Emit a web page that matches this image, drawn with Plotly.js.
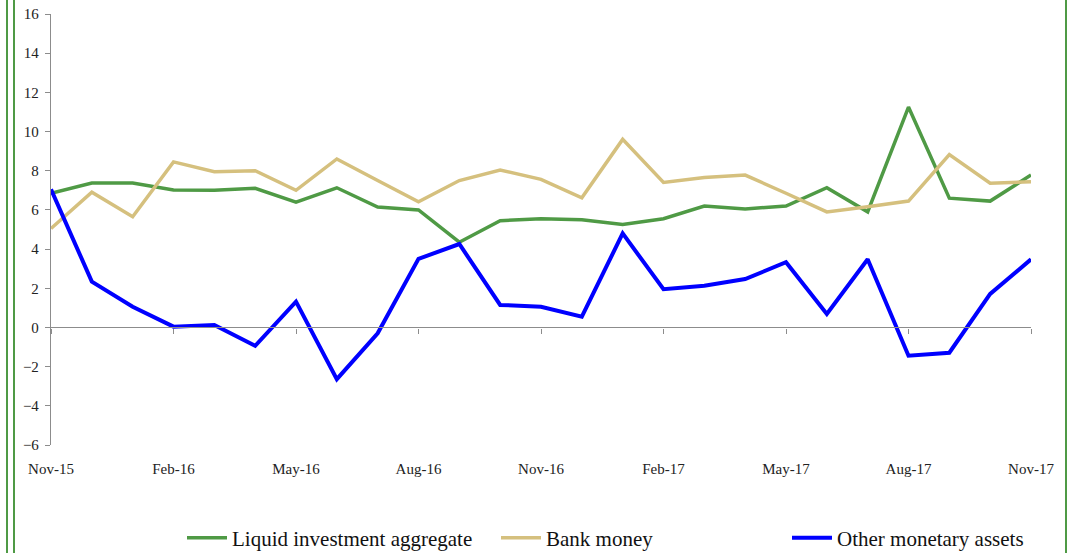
<!DOCTYPE html>
<html>
<head>
<meta charset="utf-8">
<script src="https://cdn.plot.ly/plotly-3.0.1.min.js"></script>
<style>
  html, body { margin: 0; padding: 0; background: #ffffff; }
  #chart { width: 1081px; height: 553px; }
</style>
</head>
<body>
<div id="chart"></div>
<script>
// Months Nov-15 .. Nov-17 (25 monthly observations)
const months = ["Nov-15","Dec-15","Jan-16","Feb-16","Mar-16","Apr-16","May-16","Jun-16","Jul-16","Aug-16","Sep-16","Oct-16",
                "Nov-16","Dec-16","Jan-17","Feb-17","Mar-17","Apr-17","May-17","Jun-17","Jul-17","Aug-17","Sep-17","Oct-17","Nov-17"];
const tickLabels = ["Nov-15","Feb-16","May-16","Aug-16","Nov-16","Feb-17","May-17","Aug-17","Nov-17"];
const yTicks = [-6, -4, -2, 0, 2, 4, 6, 8, 10, 12, 14, 16];

const liquidInvestment = [6.85, 7.37, 7.37, 7.02, 7.0, 7.1, 6.4, 7.13, 6.15, 6.0, 4.35, 5.45,
                          5.55, 5.5, 5.25, 5.55, 6.2, 6.05, 6.2, 7.13, 5.9, 11.25, 6.6, 6.45, 7.78];
const bankMoney = [5.05, 6.9, 5.65, 8.45, 7.95, 8.0, 7.0, 8.6, 7.5, 6.42, 7.5, 8.04,
                   7.56, 6.62, 9.6, 7.4, 7.66, 7.78, 6.85, 5.9, 6.16, 6.45, 8.82, 7.36, 7.44];
const otherMonetary = [7.05, 2.34, 1.06, 0.04, 0.13, -0.94, 1.32, -2.64, -0.3, 3.5, 4.26, 1.15,
                       1.06, 0.55, 4.8, 1.95, 2.13, 2.47, 3.33, 0.69, 3.48, -1.44, -1.29, 1.71, 3.48];

const idx = months.map((m, i) => i);
const tickIdx = tickLabels.map(t => months.indexOf(t));

const font = "'Liberation Serif', 'DejaVu Serif', serif";

const traces = [
  { x: idx, y: liquidInvestment, name: "Liquid investment aggregate", type: "scatter", mode: "lines",
    legend: "legend", line: { color: "#4f9a45", width: 3.5 }, text: months,
    hovertemplate: "%{text}: %{y}<extra></extra>" },
  { x: idx, y: bankMoney, name: "Bank money", type: "scatter", mode: "lines",
    legend: "legend2", line: { color: "#d5c07e", width: 3.5 }, text: months,
    hovertemplate: "%{text}: %{y}<extra></extra>" },
  { x: idx, y: otherMonetary, name: "Other monetary assets", type: "scatter", mode: "lines",
    legend: "legend3", line: { color: "#0000ff", width: 4 }, text: months,
    hovertemplate: "%{text}: %{y}<extra></extra>" },
  // invisible trace on xaxis2 so the zero-line category axis is drawn
  { x: [idx[0], idx[idx.length - 1]], y: [0, 0], xaxis: "x2", yaxis: "y", mode: "lines", line: { width: 0 },
    showlegend: false, hoverinfo: "skip" }
];

const W = 1081, H = 553;
const ml = 51, mr = 50, mt = 14, mb = 108;
const pw = W - ml - mr;
const px2paper = px => (px - ml) / pw;

function legendAt(px) {
  return { orientation: "h", xref: "container", yref: "container", x: px / W, xanchor: "left",
           y: 1 - 538 / H, yanchor: "middle", itemwidth: 40,
           font: { family: font, size: 21, color: "#111111" },
           bgcolor: "rgba(0,0,0,0)" };
}

const layout = {
  width: W, height: H,
  margin: { l: ml, r: mr, t: mt, b: mb, pad: 0, autoexpand: false },
  paper_bgcolor: "#ffffff", plot_bgcolor: "#ffffff",
  font: { family: font, color: "#222222", size: 15 },
  showlegend: true,
  legend: legendAt(182),
  legend2: legendAt(496),
  legend3: legendAt(787),
  xaxis: {
    range: [0, 24], tickmode: "array", tickvals: tickIdx, ticktext: tickLabels,
    showline: false, showgrid: false, zeroline: false, ticks: "",
    ticklabelstandoff: 13, tickfont: { family: font, size: 15, color: "#222222" }, fixedrange: true
  },
  xaxis2: {
    range: [0, 24], overlaying: "x", anchor: "free", position: 6 / 22,
    tickmode: "array", tickvals: tickIdx, showticklabels: false,
    showline: true, linecolor: "#8c8c8c", linewidth: 1.3,
    ticks: "outside", ticklen: 5, tickcolor: "#8c8c8c", tickwidth: 1,
    showgrid: false, zeroline: false, fixedrange: true
  },
  yaxis: {
    range: [-6, 16], tickmode: "array", tickvals: yTicks,
    showline: true, linecolor: "#8c8c8c", linewidth: 1.3,
    ticks: "outside", ticklen: 5, tickcolor: "#8c8c8c", tickwidth: 1,
    showgrid: false, zeroline: false, ticklabelstandoff: 3,
    tickfont: { family: font, size: 15, color: "#222222" }, fixedrange: true
  },
  shapes: [
    { type: "line", xref: "paper", yref: "paper", x0: px2paper(7), x1: px2paper(7), y0: -0.3, y1: 1.1,
      line: { color: "#4f9a45", width: 2 } },
    { type: "line", xref: "paper", yref: "paper", x0: px2paper(14), x1: px2paper(14), y0: -0.3, y1: 1.1,
      line: { color: "#4f9a45", width: 2 } },
    { type: "line", xref: "paper", yref: "paper", x0: px2paper(1066), x1: px2paper(1066), y0: -0.3, y1: 1.1,
      line: { color: "#4f9a45", width: 2 } }
  ]
};

Plotly.newPlot("chart", traces, layout, { displayModeBar: false });
</script>
</body>
</html>
